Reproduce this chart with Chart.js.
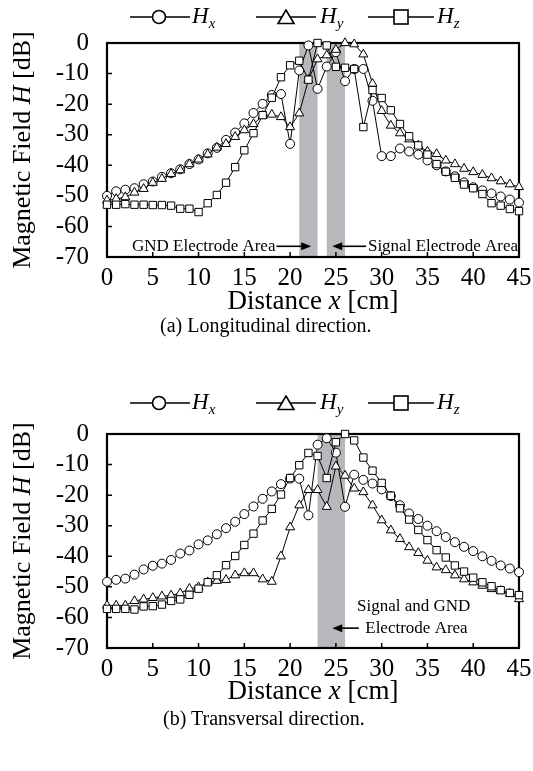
<!DOCTYPE html>
<html>
<head>
<meta charset="utf-8">
<script src="https://cdn.jsdelivr.net/npm/chart.js@4.4.1/dist/chart.umd.min.js"></script>
<style>
  body { margin: 0; background: #fff; }
  #page { position: relative; width: 533px; height: 771px; overflow: hidden; font-family: "Liberation Serif", "Times New Roman", serif; color: #000; }
  canvas { position: absolute; left: 0; }
  .leg { position: absolute; height: 24px; }
  .leg svg { position: absolute; top: 4px; }
  .leg span { position: absolute; top: -2px; font-size: 23px; font-style: italic; line-height: 26px; white-space: nowrap; }
  .leg sub { font-size: 15px; vertical-align: -5px; line-height: 0; }
  .ytitle { position: absolute; font-size: 26px; white-space: nowrap; transform: translate(-50%, -50%) rotate(-90deg); }
  .xtitle { position: absolute; font-size: 27px; white-space: nowrap; transform: translate(-50%, -50%); }
  .caption { position: absolute; font-size: 20px; white-space: nowrap; transform: translateY(-50%); }
</style>
</head>
<body>
<div id="page">
  <canvas id="chartA" width="533" height="340" style="top:0"></canvas>
  <canvas id="chartB" width="533" height="340" style="top:391px"></canvas>

  <div class="leg" style="left:0; top:5px; width:533px">
    <svg style="left:130px" width="60" height="16"><line x1="0" y1="8" x2="60" y2="8" stroke="#000" stroke-width="1.6"/><circle cx="29" cy="8" r="6.5" fill="#fff" stroke="#000" stroke-width="1.6"/></svg>
    <span style="left:192px">H<sub>x</sub></span>
    <svg style="left:256px" width="60" height="16"><line x1="0" y1="8" x2="60" y2="8" stroke="#000" stroke-width="1.6"/><polygon points="30,1 38,14.5 22,14.5" fill="#fff" stroke="#000" stroke-width="1.6"/></svg>
    <span style="left:320px">H<sub>y</sub></span>
    <svg style="left:368px" width="66" height="16"><line x1="0" y1="8" x2="66" y2="8" stroke="#000" stroke-width="1.6"/><rect x="26" y="1" width="14" height="14" fill="#fff" stroke="#000" stroke-width="1.6"/></svg>
    <span style="left:437px">H<sub>z</sub></span>
  </div>
  <div class="leg" style="left:0; top:391px; width:533px">
    <svg style="left:130px" width="60" height="16"><line x1="0" y1="8" x2="60" y2="8" stroke="#000" stroke-width="1.6"/><circle cx="29" cy="8" r="6.5" fill="#fff" stroke="#000" stroke-width="1.6"/></svg>
    <span style="left:192px">H<sub>x</sub></span>
    <svg style="left:256px" width="60" height="16"><line x1="0" y1="8" x2="60" y2="8" stroke="#000" stroke-width="1.6"/><polygon points="30,1 38,14.5 22,14.5" fill="#fff" stroke="#000" stroke-width="1.6"/></svg>
    <span style="left:320px">H<sub>y</sub></span>
    <svg style="left:368px" width="66" height="16"><line x1="0" y1="8" x2="66" y2="8" stroke="#000" stroke-width="1.6"/><rect x="26" y="1" width="14" height="14" fill="#fff" stroke="#000" stroke-width="1.6"/></svg>
    <span style="left:437px">H<sub>z</sub></span>
  </div>

  <div class="ytitle" style="left:22px; top:150px">Magnetic Field <i>H</i> [dB]</div>
  <div class="xtitle" style="left:313px; top:300px">Distance <i>x</i> [cm]</div>
  <div class="caption" style="left:160px; top:325px">(a) Longitudinal direction.</div>

  <div class="ytitle" style="left:22px; top:541px">Magnetic Field <i>H</i> [dB]</div>
  <div class="xtitle" style="left:313px; top:690px">Distance <i>x</i> [cm]</div>
  <div class="caption" style="left:163px; top:718px">(b) Transversal direction.</div>
</div>

<script>
// distance along the line [cm]
const distance = [0, 1, 2, 3, 4, 5, 6, 7, 8, 9, 10, 11, 12, 13, 14, 15, 16, 17, 18, 19, 20, 21, 22,
  23, 24, 25, 26, 27, 28, 29, 30, 31, 32, 33, 34, 35, 36, 37, 38, 39, 40, 41, 42, 43, 44, 45];
const xTickValues = [0, 5, 10, 15, 20, 25, 30, 35, 40, 45];
const yTickValues = [0, -10, -20, -30, -40, -50, -60, -70];

// (a) longitudinal direction [dB]
const longHx = [-50, -48.5, -48, -47.5, -46.2, -45.3, -43.8, -42.6, -41.3, -39.6, -38.1, -36.1, -34.3,
  -31.7, -29.3, -26.3, -22.9, -19.9, -17, -16.7, -33, -9, -0.8, -15, -7.7, -3, -12.5, -8.5, -8.5,
  -18.9, -37, -37, -34.5, -35.5, -36.5, -38.4, -40, -42, -43.6, -45.6, -47.2, -48.2, -49.2, -50.2,
  -51.2, -52.2];
const longHy = [-51.5, -51, -50.4, -48.9, -47.7, -45.7, -44.4, -42.8, -41.6, -39.6, -38.1, -36.4, -34.2,
  -33, -30.7, -28.5, -26.5, -23.8, -23.4, -24.2, -27.5, -23, -12, -5.3, -4, -2.2, 0, -0.4, -3.7,
  -13.3, -22.2, -27, -29.5, -31.5, -33.5, -35.5, -36.3, -38.4, -39.6, -41.1, -42.2, -43.1, -44.2,
  -45.2, -46.2, -47.1];
const longHz = [-52.9, -52.9, -52.7, -52.9, -52.9, -53, -53, -53.2, -54.2, -54.2, -55.3, -52.4, -49.7,
  -45.7, -40.6, -35.1, -29.5, -23.6, -17.9, -11.2, -7.3, -5.8, -12, 0, -0.8, -7.8, -8.1, -8.5, -27.5,
  -15.4, -18, -22, -26.5, -30.5, -33.5, -36.5, -39.6, -42.1, -44.1, -46.3, -47.5, -49.4, -52.4, -53.2,
  -54.3, -55];

// (b) transversal direction [dB]
const transHx = [-48.3, -47.7, -47.3, -46, -44.3, -43.1, -42.4, -41.2, -39.1, -38.1, -36.1, -34.8, -32.8,
  -30.8, -28.7, -26.2, -23.7, -21.2, -18.8, -16.4, -14.6, -14.6, -26.6, -3.5, -1.4, -6.1, -23.8, -13.3,
  -15, -16.2, -18.1, -20.3, -23.3, -26, -27.8, -30, -31.8, -33.7, -35.4, -36.9, -38.3, -40, -41.5, -43,
  -44, -45.2];
const transHy = [-56.1, -56.1, -56.1, -54.6, -54.1, -53.6, -53.1, -52.8, -52.1, -50.6, -50.1, -48.5, -48,
  -47.7, -46.2, -45.5, -45.5, -47.5, -48.3, -40, -30.5, -23.3, -18.3, -18.3, -23.8, -10.6, -13.6, -17.8,
  -19, -23.3, -28.2, -31.5, -34.3, -37, -38.9, -41.4, -43.6, -44.5, -46.2, -47.5, -48.5, -49.6, -50.7,
  -51.3, -52.2, -54];
const transHz = [-57.2, -57.2, -57.2, -57.4, -56.4, -56.3, -55.8, -54.6, -54.1, -52.6, -50.6, -48.5, -46.2,
  -42.9, -39.9, -36.3, -32.6, -28.3, -24.5, -19.8, -14.4, -10.2, -6.2, -7.2, -14.4, -2.7, 0, -2.1, -7.7,
  -12, -16, -20.2, -24.3, -28, -31.4, -34.7, -38, -40.4, -43, -45, -47, -48.5, -49.8, -51.1, -52, -52.7];

// electrode areas [cm]
const longBands = [[21, 23], [24, 26]];
const transBands = [[23, 26]];

const serif = '"Liberation Serif", "Times New Roman", serif';

function arrow(ctx, x0, x1, y) {
  const dir = Math.sign(x1 - x0);
  ctx.beginPath();
  ctx.moveTo(x0, y);
  ctx.lineTo(x1 - dir * 8, y);
  ctx.stroke();
  ctx.beginPath();
  ctx.moveTo(x1, y);
  ctx.lineTo(x1 - dir * 10, y - 4);
  ctx.lineTo(x1 - dir * 10, y + 4);
  ctx.closePath();
  ctx.fill();
}

const figurePlugin = {
  id: 'figure',
  beforeDatasetsDraw(chart, args, opts) {
    const { ctx, chartArea: a, scales: { x, y } } = chart;
    ctx.save();
    // shaded electrode areas
    ctx.fillStyle = '#b7b8bc';
    opts.bands.forEach(([s, e]) => {
      const x0 = x.getPixelForValue(s), x1 = x.getPixelForValue(e);
      ctx.fillRect(x0, a.top, x1 - x0, a.bottom - a.top);
    });
    // frame and inner ticks
    ctx.strokeStyle = '#000';
    ctx.lineWidth = 2.2;
    ctx.strokeRect(a.left, a.top, a.right - a.left, a.bottom - a.top);
    ctx.lineWidth = 1.5;
    ctx.beginPath();
    yTickValues.forEach(v => {
      const py = y.getPixelForValue(v);
      ctx.moveTo(a.left, py);
      ctx.lineTo(a.left + 5, py);
    });
    xTickValues.forEach(v => {
      const px = x.getPixelForValue(v);
      ctx.moveTo(px, a.bottom);
      ctx.lineTo(px, a.bottom - 5);
    });
    ctx.stroke();
    ctx.restore();
  },
  afterDraw(chart, args, opts) {
    const { ctx, scales: { x, y } } = chart;
    ctx.save();
    ctx.fillStyle = '#000';
    ctx.strokeStyle = '#000';
    ctx.lineWidth = 1.6;
    ctx.font = '17px ' + serif;
    ctx.textBaseline = 'middle';
    opts.notes(ctx, x, y);
    ctx.restore();
  }
};

function series(values) {
  return distance.map((d, i) => ({ x: d, y: values[i] }));
}

function makeChart(id, hx, hy, hz, bands, notes) {
  const common = {
    borderColor: '#000', borderWidth: 1, backgroundColor: '#fff',
    pointBorderColor: '#000', pointBackgroundColor: '#fff', pointBorderWidth: 1,
    tension: 0, clip: false
  };
  return new Chart(document.getElementById(id), {
    type: 'line',
    data: {
      datasets: [
        { ...common, label: 'Hz', data: series(hz), pointStyle: 'rect', pointRadius: 5.2 },
        { ...common, label: 'Hy', data: series(hy), pointStyle: 'triangle', pointRadius: 5.2 },
        { ...common, label: 'Hx', data: series(hx), pointStyle: 'circle', pointRadius: 4.5 }
      ]
    },
    options: {
      responsive: false,
      animation: false,
      layout: { padding: { top: 43, right: 14, left: 0, bottom: 0 } },
      plugins: {
        legend: { display: false },
        tooltip: { enabled: false },
        figure: { bands: bands, notes: notes }
      },
      scales: {
        x: {
          type: 'linear', min: 0, max: 45,
          grid: { display: false }, border: { display: false },
          afterBuildTicks: s => { s.ticks = xTickValues.map(v => ({ value: v })); },
          afterFit: s => { s.height = 83; },
          ticks: { autoSkip: false, maxRotation: 0, padding: 1, color: '#000',
                   font: { family: serif, size: 25, lineHeight: 1 } }
        },
        y: {
          min: -70, max: 0,
          grid: { display: false }, border: { display: false },
          afterBuildTicks: s => { s.ticks = yTickValues.map(v => ({ value: v })); },
          afterFit: s => { s.width = 107; },
          ticks: { padding: 10, color: '#000', font: { family: serif, size: 25, lineHeight: 1 } }
        }
      }
    },
    plugins: [figurePlugin]
  });
}

makeChart('chartA', longHx, longHy, longHz, longBands, (ctx, x, y) => {
  const py = y.getPixelForValue(-66.5);
  ctx.textAlign = 'right';
  ctx.fillText('GND Electrode Area', x.getPixelForValue(18.4), py);
  arrow(ctx, x.getPixelForValue(18.5), x.getPixelForValue(22.3), py);
  arrow(ctx, x.getPixelForValue(28.3), x.getPixelForValue(24.6), py);
  ctx.textAlign = 'left';
  ctx.fillText('Signal Electrode Area', x.getPixelForValue(28.5), py);
});

makeChart('chartB', transHx, transHy, transHz, transBands, (ctx, x, y) => {
  ctx.textAlign = 'center';
  ctx.fillText('Signal and GND', x.getPixelForValue(33.5), y.getPixelForValue(-56.5));
  const py = y.getPixelForValue(-63.5);
  ctx.fillText('Electrode Area', x.getPixelForValue(33.8), py);
  arrow(ctx, x.getPixelForValue(27.5), x.getPixelForValue(24.6), py);
});
</script>
</body>
</html>
